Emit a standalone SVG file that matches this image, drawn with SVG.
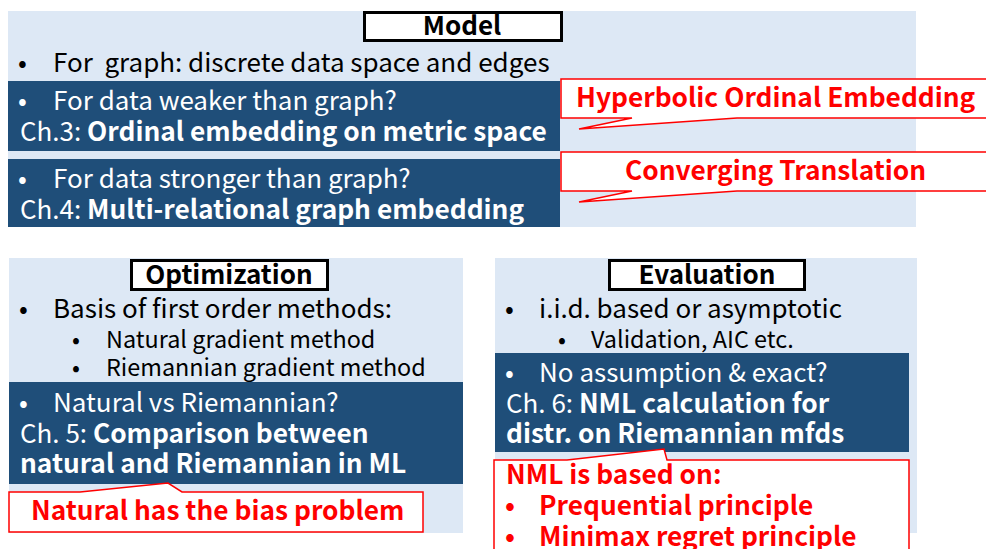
<svg xmlns="http://www.w3.org/2000/svg" width="986" height="549" viewBox="0 0 986 549">
<style>
text{font-family:"Noto Sans CJK JP","Noto Sans",sans-serif;}
.panel{fill:#dde8f5;}
.dark{fill:#1f4e79;}
.title{fill:#fff;stroke:#000;stroke-width:3;}
.tt{font-size:26px;font-weight:bold;fill:#000;text-anchor:middle;}
.t{font-size:26px;fill:#000;}
.s{font-size:23.4px;fill:#000;}
.w{font-size:26px;fill:#fff;}
.b{font-weight:bold;font-size:26.3px;}
.call{fill:#fff;stroke:#ff0000;stroke-width:1.5;}
.r{font-size:26.3px;font-weight:bold;fill:#ff0000;}
</style>
<g id="model">
<rect class="panel" x="8" y="11" width="908" height="216"/>
<rect class="title" x="364.5" y="12.5" width="197" height="28"/>
<text class="tt" x="462" y="35">Model</text>
<text class="t" x="18" y="72">•</text>
<text class="t" x="53" y="72" xml:space="preserve">For  graph: discrete data space and edges</text>
</g>
<g id="ch3">
<rect class="dark" x="8" y="81" width="552" height="70"/>
<text class="w" x="18" y="110">•</text>
<text class="w" x="53" y="110">For data weaker than graph?</text>
<text class="w" x="20" y="141">Ch.3: <tspan class="b">Ordinal embedding on metric space</tspan></text>
</g>
<g id="ch4">
<rect class="dark" x="8" y="159" width="552" height="68"/>
<text class="w" x="18" y="188">•</text>
<text class="w" x="53" y="188">For data stronger than graph?</text>
<text class="w" x="20" y="219">Ch.4: <tspan class="b">Multi-relational graph embedding</tspan></text>
</g>
<g id="callout-hoe">
<path class="call" d="M561,79 H990 V118 H737 L579,129 L632,118 H561 Z"/>
<text class="r" x="576" y="107">Hyperbolic Ordinal Embedding</text>
</g>
<g id="callout-ct">
<path class="call" d="M561,152 H990 V191 H737 L579,202 L632,191 H561 Z"/>
<text class="r" x="625" y="180">Converging Translation</text>
</g>
<g id="optimization">
<rect class="panel" x="9" y="258" width="454" height="275"/>
<rect class="title" x="131.5" y="260.5" width="196" height="29"/>
<text class="tt" x="229" y="284">Optimization</text>
<text class="t" x="19" y="318">•</text>
<text class="t" x="53" y="318">Basis of first order methods:</text>
<text class="s" x="72" y="348">•</text>
<text class="s" x="106" y="348">Natural gradient method</text>
<text class="s" x="72" y="376">•</text>
<text class="s" x="106" y="376">Riemannian gradient method</text>
</g>
<g id="ch5">
<rect class="dark" x="9" y="382" width="454" height="102"/>
<text class="w" x="19" y="412">•</text>
<text class="w" x="53" y="412">Natural vs Riemannian?</text>
<text class="w" x="20" y="443">Ch. 5: <tspan class="b">Comparison between</tspan></text>
<text class="w b" x="20" y="473">natural and Riemannian in ML</text>
</g>
<g id="callout-bias">
<path class="call" d="M9,492 H80 L168,483 L182,492 H423 V532 H9 Z"/>
<text class="r" x="31" y="520">Natural has the bias problem</text>
</g>
<g id="evaluation">
<rect class="panel" x="495" y="258" width="422" height="275"/>
<rect class="title" x="609.5" y="260.5" width="195" height="29"/>
<text class="tt" x="707" y="284">Evaluation</text>
<text class="t" x="505" y="318">•</text>
<text class="t" x="539" y="318">i.i.d. based or asymptotic</text>
<text class="s" x="558" y="348">•</text>
<text class="s" x="591" y="348">Validation, AIC etc.</text>
</g>
<g id="ch6">
<rect class="dark" x="495" y="353" width="414" height="99"/>
<text class="w" x="505" y="382">•</text>
<text class="w" x="539" y="382">No assumption &amp; exact?</text>
<text class="w" x="506" y="413">Ch. 6: <tspan class="b">NML calculation for</tspan></text>
<text class="w b" x="506" y="443">distr. on Riemannian mfds</text>
</g>
<g id="callout-nml">
<path class="call" d="M494,460 H567 L664,449 L667,460 H909 V560 H494 Z"/>
<text class="r" x="506" y="484">NML is based on:</text>
<text class="r" x="505" y="515">•</text>
<text class="r" x="539" y="515">Prequential principle</text>
<text class="r" x="505" y="546">•</text>
<text class="r" x="539" y="546">Minimax regret principle</text>
</g>
</svg>
